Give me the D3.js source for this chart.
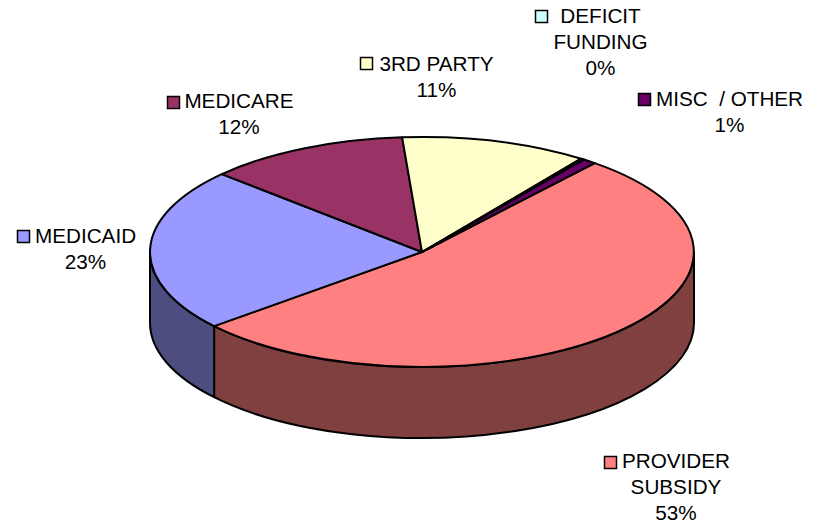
<!DOCTYPE html>
<html>
<head>
<meta charset="utf-8">
<style>
html,body{margin:0;padding:0;background:#fff}
svg{display:block}
text{font-family:"Liberation Sans",Arial,sans-serif;font-size:20.7px;fill:#000;white-space:pre}
</style>
<script src="https://cdn.jsdelivr.net/npm/d3@7/dist/d3.min.js"></script>
</head>
<body>
<svg id="c" width="823" height="527"></svg>
<script>
const categories = ["PROVIDER SUBSIDY","MEDICAID","MEDICARE","3RD PARTY","DEFICIT FUNDING","MISC / OTHER"];
const values = [52.9,23,12,11.1,0.2,0.8];
const labelLines = [["PROVIDER","SUBSIDY"],["MEDICAID"],["MEDICARE"],["3RD PARTY"],["DEFICIT","FUNDING"],["MISC  / OTHER"]];
const topColors = ["#FF8080","#9999FF","#993366","#FFFFCC","#CCFFFF","#660066"];
const sideColors = ["#804040","#4D4D80","#4D1A33","#808066","#668080","#330033"];
// layout: line centre x, first baseline, key box left/top
const labelX = [676,85.5,239,436.5,600.5,729.5];
const labelY = [468,243,108,71,23,106];
const keyX = [604.5,17.5,167.5,360.5,535.5,638.5];
const keyY = [456.5,230.5,96.5,57.5,10.5,93.5];

const cx = 422, cy = 252, rx = 272, ry = 115, depth = 71, lineStep = 26, keySize = 12;
const startDeg = 39.4;
const svg = d3.select("#c");

const pie = d3.pie().sort(null).startAngle(startDeg*Math.PI/180).endAngle((startDeg+360)*Math.PI/180);
const arcs = pie(values);
const px = a => cx + rx*Math.sin(a);
const py = a => cy - ry*Math.cos(a);

// Visible outer wall: clipped to the front half of the ellipse
const lo = Math.PI/2, hi = 3*Math.PI/2;
function wall(d){
  const a0 = Math.max(d.startAngle,lo), a1 = Math.min(d.endAngle,hi);
  if(a1<=a0) return null;
  let s = `M${px(a0)},${py(a0)}L${px(a0)},${py(a0)+depth}`;
  s += `A${rx},${ry} 0 0 1 ${px(a1)},${py(a1)+depth}`;
  s += `L${px(a1)},${py(a1)}A${rx},${ry} 0 0 0 ${px(a0)},${py(a0)}Z`;
  return s;
}
svg.append("g").selectAll("path").data(arcs.filter(d=>wall(d))).join("path")
  .attr("d",wall)
  .attr("fill",d=>sideColors[d.index])
  .attr("stroke","#000").attr("stroke-width",2).attr("stroke-linejoin","round");

// Top face: unit d3.arc scaled to the tilted ellipse
const arc = d3.arc().innerRadius(0).outerRadius(1);
svg.append("g").attr("transform",`translate(${cx},${cy}) scale(${rx},${ry})`)
  .selectAll("path").data(arcs).join("path")
  .attr("d",arc)
  .attr("fill",d=>topColors[d.index])
  .attr("stroke","#000").attr("stroke-width",2)
  .attr("stroke-linejoin","round")
  .attr("vector-effect","non-scaling-stroke");

// Labels
const pct = d3.format(".0f");
const g = svg.append("g").selectAll("g").data(categories).join("g");
g.append("rect")
  .attr("x",(d,i)=>keyX[i]).attr("y",(d,i)=>keyY[i])
  .attr("width",keySize).attr("height",keySize)
  .attr("fill",(d,i)=>topColors[i])
  .attr("stroke","#000").attr("stroke-width",1.5);
g.each(function(d,i){
  const lines = labelLines[i].concat(pct(values[i])+"%");
  d3.select(this).selectAll("text").data(lines).join("text")
    .attr("x",labelX[i])
    .attr("y",(l,j)=>labelY[i]+j*lineStep)
    .attr("text-anchor","middle")
    .text(l=>l);
});
</script>
</body>
</html>
